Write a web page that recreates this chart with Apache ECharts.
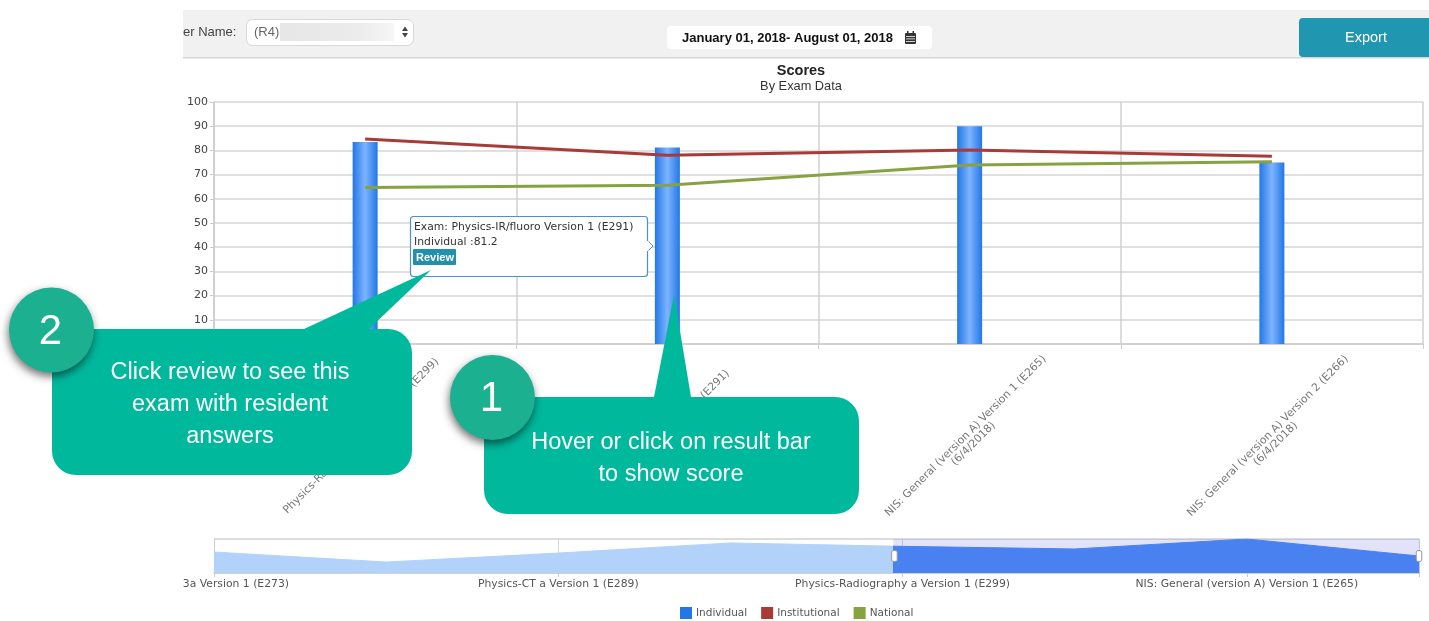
<!DOCTYPE html>
<html><head><meta charset="utf-8">
<style>html,body{margin:0;padding:0;background:#fff}#c{width:1429px;height:621px}</style>
<script src="https://cdn.jsdelivr.net/npm/echarts@6/dist/echarts.min.js"></script>
</head><body><div id="c"></div>
<script>
const examNames = ['Physics-3a Version 1 (E273)','','Physics-CT a Version 1 (E289)','','Physics-Radiography a Version 1 (E299)','Physics-IR/fluoro Version 1 (E291)','NIS: General (version A) Version 1 (E265)','NIS: General (version A) Version 2 (E266)'];
const examDates = ['','','','','','','(6/4/2018)','(6/4/2018)'];
const individual = [78.5,69.7,77.6,86.5,83.5,81.2,90,75];
const institutional = [null,null,null,null,84.7,78,80.2,77.6];
const national = [null,null,null,null,64.7,65.6,74,75.3];
const yTicks = {min:0,max:100,interval:10};

const FONT='"DejaVu Sans"', SANS='"Liberation Sans"';
const GREEN='#00b89c', BADGE='#1bb08f';
const txt=(x,y,text,o={})=>({type:'text',x,y,z:o.z||100,style:{text,fill:o.fill||'#fff',font:o.font||`23.5px ${SANS}`,textAlign:o.align||'center',textVerticalAlign:'middle'}});
const rect=(x,y,w,h,fill,r=0,o={})=>({type:'rect',z:o.z||100,shape:{x,y,width:w,height:h,r},style:Object.assign({fill},o.style||{})});
const poly=(points,fill,z=100,extra={})=>({type:'polygon',z,shape:{points},style:Object.assign({fill},extra)});
const badge=(cx,cy,label)=>[
 {type:'circle',z:102,shape:{cx,cy,r:42.5},style:{fill:BADGE,shadowBlur:8,shadowColor:'rgba(0,0,0,0.55)',shadowOffsetX:-1,shadowOffsetY:4}},
 txt(cx-1,cy+2,label,{z:103,font:`42px ${SANS}`})];

const graphics=[
 rect(0,0,183,621,'#fff',0,{z:60}),
 rect(183,10,1246,48,'#f1f1f1',0,{z:61}),
 rect(183,57,1246,1.5,'#d6d6d6',0,{z:61}),
 txt(183,32,'er Name:',{align:'left',fill:'#444',font:`13px ${SANS}`,z:62}),
 rect(246.5,19.5,167,26,'#fff',6,{z:62,style:{stroke:'#d8d8d8',lineWidth:1}}),
 txt(254,32,'(R4)',{align:'left',fill:'#666',font:`13px ${SANS}`,z:63}),
 rect(280,23,114,18,new echarts.graphic.LinearGradient(0,0,1,0,[{offset:0,color:'#e6e6e6'},{offset:.7,color:'#ececec'},{offset:1,color:'#f6f6f6'}]),0,{z:63}),
 poly([[402,31],[405,26.5],[408,31]],'#444',63),
 poly([[402,33],[405,37.5],[408,33]],'#444',63),
 rect(667,26,265,23,'#fff',4,{z:62}),
 txt(682,38,'January 01, 2018- August 01, 2018',{align:'left',fill:'#111',font:`bold 13px ${SANS}`,z:63}),
 rect(905,33,11,11,'#333',1,{z:63}),
 rect(906,36,9,.8,'#fff',0,{z:64}),rect(906,38.5,9,.8,'#fff',0,{z:64}),rect(906,41,9,.8,'#fff',0,{z:64}),
 rect(907,31,1.5,3,'#333',0,{z:63}),rect(912.5,31,1.5,3,'#333',0,{z:63}),
 rect(1299,18,140,39,'#2196b0',4,{z:62}),
 txt(1366,38,'Export',{font:`14.5px ${SANS}`,z:63}),
 txt(801,71,'Scores',{fill:'#222',font:`bold 14.5px ${SANS}`,z:62}),
 txt(801,86,'By Exam Data',{fill:'#333',font:`12.8px ${SANS}`,z:62}),
 // tooltip
 poly([[647,240],[653,246],[647,252]],'#fff',70,{stroke:'#4a8fe0',lineWidth:1}),
 rect(410.5,216.5,237,60,'#fff',3,{z:71,style:{stroke:'#4a8fe0',lineWidth:1.2}}),
 rect(646,241,2.5,10,'#fff',0,{z:72}),
 txt(414,227.5,'Exam: Physics-IR/fluoro Version 1 (E291)',{align:'left',fill:'#333',font:`10.8px ${FONT}`,z:72}),
 txt(414,242.5,'Individual :81.2',{align:'left',fill:'#333',font:`10.8px ${FONT}`,z:72}),
 rect(413,249,43,16,'#2090ad',1,{z:72}),
 txt(435,257.5,'Review',{font:`bold 11px ${SANS}`,z:73}),
 // callout 2
 poly([[304,329],[369,329],[431,270]],GREEN,100),
 rect(52,329,360,146,GREEN,24),
 ...badge(51.5,330,'2'),
 txt(230,373,'Click review to see this',{z:103}),
 txt(230,405,'exam with resident',{z:103}),
 txt(230,437,'answers',{z:103}),
 // callout 1
 poly([[654,397],[691,397],[674,295]],GREEN,100),
 rect(484,397,375,117,GREEN,24),
 ...badge(492.5,397.5,'1'),
 txt(671,443,'Hover or click on result bar',{z:103}),
 txt(671,475,'to show score',{z:103})
];

const barGrad=new echarts.graphic.LinearGradient(0,0,1,0,[{offset:0,color:'#2277e6'},{offset:.5,color:'#7db4ff'},{offset:1,color:'#2277e6'}]);
const chart=echarts.init(document.getElementById('c'),null,{renderer:'canvas'});
chart.setOption({
 animation:false,
 backgroundColor:'#fff',
 textStyle:{fontFamily:FONT},
 graphic:{elements:graphics},
 tooltip:{show:false},
 legend:{left:675,top:602,itemWidth:12,itemHeight:12,itemGap:14,
  textStyle:{fontFamily:FONT,fontSize:10.5,color:'#555',padding:[0,0,0,-1]},
  data:[{name:'Individual',icon:'rect',itemStyle:{color:'#2277e6'}},
        {name:'Institutional',icon:'rect',itemStyle:{color:'#a83a38'}},
        {name:'National',icon:'rect',itemStyle:{color:'#87a33f'}}]},
 grid:[{left:214,right:6,top:102,height:242,containLabel:false},
       {left:214,right:10,top:539,height:34}],
 xAxis:[
  {type:'category',gridIndex:0,data:examNames,boundaryGap:true,
   axisLine:{lineStyle:{color:'#ccc',width:1.5}},axisTick:{show:true,length:5,interval:0,lineStyle:{color:'#ccc'}},
   splitLine:{show:true,interval:0,lineStyle:{color:'#d0d0d0',width:1.5}},
   axisLabel:{interval:0,rotate:45,align:'center',verticalAlign:'middle',margin:96,fontSize:10.8,color:'#777',fontFamily:FONT,hideOverlap:false,
    formatter:(v)=>v+'\n'+(examDates[examNames.indexOf(v)]||' ')}},
  {type:'value',gridIndex:1,min:0,max:examNames.length-1,interval:2,
   axisLine:{lineStyle:{color:'#ccc',width:1.5}},axisTick:{show:true,length:4,lineStyle:{color:'#ccc'}},
   splitLine:{show:true,lineStyle:{color:'#d8d8d8'}},
   axisLabel:{margin:6,fontSize:10.8,color:'#555',fontFamily:FONT,hideOverlap:false,
    formatter:(v)=>v%2===0?examNames[v]:''}}
 ],
 yAxis:[
  {type:'value',gridIndex:0,min:yTicks.min,max:yTicks.max,interval:yTicks.interval,
   axisLine:{show:true,lineStyle:{color:'#ccc',width:1.5}},axisTick:{show:true,length:4,lineStyle:{color:'#ccc'}},
   splitLine:{show:true,lineStyle:{color:'#d6d6d6',width:1.5}},
   axisLabel:{fontSize:11,color:'#444',fontFamily:FONT,margin:6,padding:[2,0,0,0]}},
  {type:'value',gridIndex:1,min:60,max:90,show:true,axisLabel:{show:false},axisTick:{show:false},
   axisLine:{show:true,lineStyle:{color:'#ccc'}},interval:30,splitLine:{show:true,lineStyle:{color:'#d0d0d0',width:1.5}}}
 ],
 dataZoom:[{type:'slider',xAxisIndex:0,left:214,right:10,top:539,height:34,start:56.3,end:100,
   showDataShadow:false,showDetail:false,brushSelect:false,moveHandleSize:0,
   backgroundColor:'transparent',borderColor:'transparent',
   fillerColor:'rgba(110,110,235,0.2)',
   handleIcon:'path://M0 1Q0 0 2 0Q4 0 4 1L4 7Q4 8 2 8Q0 8 0 7Z',handleSize:11,
   handleStyle:{color:'#fff',borderColor:'#999',borderWidth:1}}],
 visualMap:{show:false,type:'piecewise',seriesIndex:3,dimension:0,
   pieces:[{gte:0,lt:3.945,color:'#b3d2fa'},{gte:3.945,lte:7,color:'#4088f2'}]},
 series:[
  {name:'Individual',type:'bar',xAxisIndex:0,yAxisIndex:0,data:individual,barWidth:25,itemStyle:{color:barGrad},z:2},
  {name:'Institutional',type:'line',xAxisIndex:0,yAxisIndex:0,data:institutional,symbol:'none',lineStyle:{color:'#a83a38',width:3},itemStyle:{color:'#a83a38'},z:3},
  {name:'National',type:'line',xAxisIndex:0,yAxisIndex:0,data:national,symbol:'none',lineStyle:{color:'#87a33f',width:3},itemStyle:{color:'#87a33f'},z:3},
  {name:'Overview',type:'line',xAxisIndex:1,yAxisIndex:1,data:individual.map((v,i)=>[i,v]),symbol:'none',lineStyle:{width:1},areaStyle:{opacity:1},silent:true,z:1}
 ]
});
</script></body></html>
